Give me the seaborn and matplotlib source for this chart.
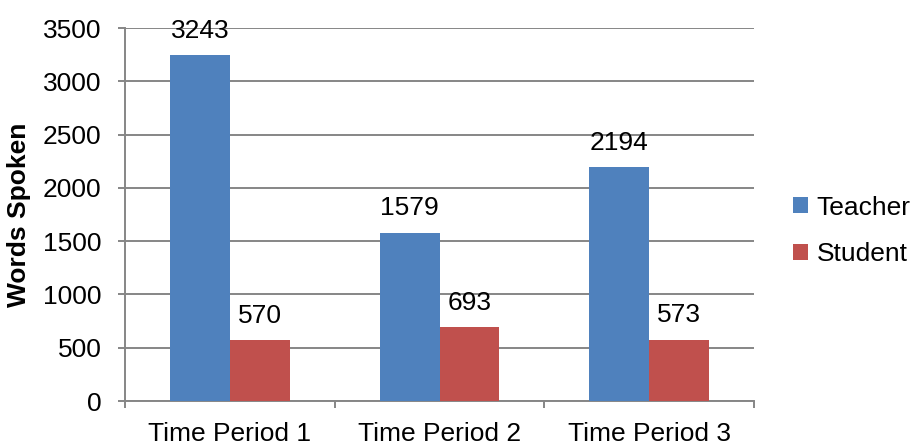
import matplotlib
matplotlib.use("Agg")
import matplotlib.pyplot as plt
import seaborn as sns
import pandas as pd
from matplotlib.ticker import MultipleLocator, FixedLocator

# Words spoken per time period
periods = ["Time Period 1", "Time Period 2", "Time Period 3"]
teacher_words = [3243, 1579, 2194]
student_words = [570, 693, 573]
speakers = ["Teacher", "Student"]
colors = {"Teacher": "#4F81BD", "Student": "#C0504D"}

df = pd.DataFrame({
    "Period": periods * 2,
    "Words": teacher_words + student_words,
    "Speaker": [speakers[0]] * len(periods) + [speakers[1]] * len(periods),
})

sns.set_style("white")
plt.rcParams["font.family"] = ["Liberation Sans", "DejaVu Sans"]
plt.rcParams["text.color"] = "black"
plt.rcParams["axes.labelcolor"] = "black"
plt.rcParams["xtick.color"] = "black"
plt.rcParams["ytick.color"] = "black"

fig = plt.figure(figsize=(9.16, 4.44), dpi=100)
ax = fig.add_axes([125 / 916, 1 - 401 / 444, 629 / 916, 373 / 444])

sns.barplot(data=df, x="Period", y="Words", hue="Speaker", hue_order=speakers,
            palette=colors, width=0.57, linewidth=0, saturation=1,
            ax=ax, legend=True, zorder=3)

grid_c = "#868686"
ax.set_ylim(0, 3500)
ax.set_xlim(-0.5, 2.5)
ax.yaxis.set_major_locator(MultipleLocator(500))
ax.grid(axis="y", color=grid_c, linewidth=1.4, zorder=0)
ax.grid(axis="x", visible=False)

for side in ["top", "right"]:
    ax.spines[side].set_visible(False)
for side in ["left", "bottom"]:
    ax.spines[side].set_color(grid_c)
    ax.spines[side].set_linewidth(1.4)

fs = 19
ax.tick_params(axis="y", which="major", left=True, length=5, width=1.4,
               color=grid_c, labelcolor="black", labelsize=fs, pad=12)
ax.tick_params(axis="x", which="major", length=0, labelsize=fs, pad=15,
               labelcolor="black")
ax.xaxis.set_minor_locator(FixedLocator([-0.5, 0.5, 1.5, 2.5]))
ax.tick_params(axis="x", which="minor", bottom=True, length=5, width=1.4,
               color=grid_c)

ax.set_xlabel("")
ax.set_ylabel("Words Spoken", fontsize=19, fontweight="bold", color="black")
ax.yaxis.set_label_coords(-0.150, 0.5)

for cont in ax.containers:
    ax.bar_label(cont, fmt="%d", padding=9, fontsize=fs, color="black")

handles, labels = ax.get_legend_handles_labels()
leg = ax.legend(handles, labels, loc="center left",
                bbox_to_anchor=(793 / 916, 1 - 231 / 444),
                bbox_transform=fig.transFigure, frameon=False, fontsize=fs,
                handlelength=0.55, handleheight=0.55, handletextpad=0.35,
                labelspacing=0.85, borderaxespad=0, borderpad=0)
for t in leg.get_texts():
    t.set_color("black")

fig.savefig("out.png", dpi=100)
